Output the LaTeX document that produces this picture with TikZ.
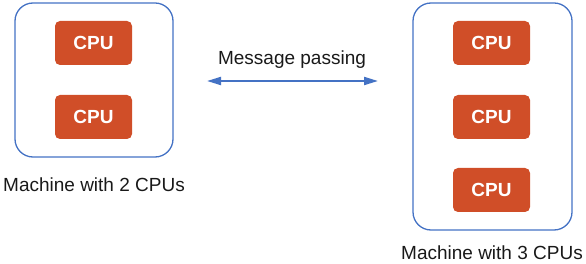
\documentclass[tikz,border=0pt]{standalone}
\usepackage{fontspec}
\setmainfont{Liberation Sans}
\usetikzlibrary{arrows.meta}
\definecolor{boxblue}{HTML}{4472C4}
\definecolor{cpured}{HTML}{D04E28}
\begin{document}
\begin{tikzpicture}[x=1pt,y=-1pt,
  machine/.style={draw=boxblue,line width=1.3pt,rounded corners=18pt},
  cpu/.style={fill=cpured,draw=none,rounded corners=5pt,minimum width=77pt,minimum height=44pt,inner sep=0pt,text=white,font=\fontsize{19}{21}\selectfont\bfseries},
  lbl/.style={font=\fontsize{19}{21}\selectfont,text=black!90,inner sep=0pt},
  link/.style={draw=boxblue,line width=2pt,{Triangle[length=14pt,width=8pt]}-{Triangle[length=14pt,width=8pt]}}]
\useasboundingbox (0,0) rectangle (586,264);
\draw[machine] (15,3) rectangle (173,157);
\draw[machine] (413,3) rectangle (572,230);
\node[cpu] (c1) at (93.5,43) {CPU};
\node[cpu] (c2) at (93.5,117) {CPU};
\node[cpu] (c3) at (491.5,43) {CPU};
\node[cpu] (c4) at (491.5,117) {CPU};
\node[cpu] (c5) at (491.5,190) {CPU};
\node[lbl] (l1) at (94,185) {Machine with 2 CPUs};
\node[lbl] (l2) at (492,253) {Machine with 3 CPUs};
\node[lbl] (mp) at (292,60) {Message passing};
\coordinate (a) at (207,81);
\coordinate (b) at (378,81);
\draw[link] (a) -- (b);
\end{tikzpicture}
\end{document}
